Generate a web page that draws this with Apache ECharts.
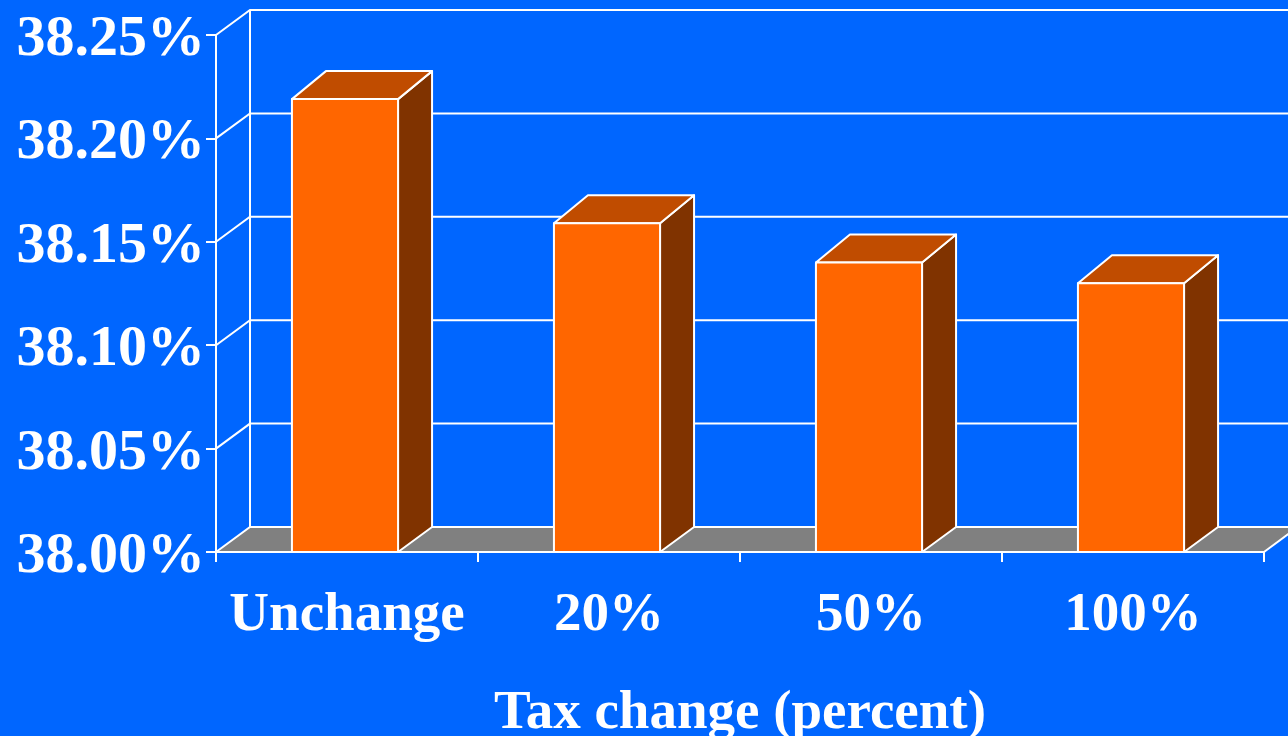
<!DOCTYPE html>
<html><head><meta charset="utf-8">
<script src="https://cdn.jsdelivr.net/npm/echarts@6/dist/echarts.min.js"></script>
<style>html,body{margin:0;padding:0;background:#0066ff;overflow:hidden}#c{width:1288px;height:736px}</style>
</head><body><div id="c"></div>
<script>
// ---- data ----
const categories = ['Unchange', '20%', '50%', '100%'];
const values = [38.219, 38.159, 38.140, 38.130];
const yTicks = [38.00, 38.05, 38.10, 38.15, 38.20, 38.25];
const yMin = 38.00, yMax = 38.25, yStep = 0.05;
const axisTitle = 'Tax change (percent)';

// ---- style ----
const DX = 34, DY = 25, DYT = 28;
const FONT = '"Liberation Serif","Times New Roman",serif';
const WHITE = '#ffffff';
const LW = 2;

const chart = echarts.init(document.getElementById('c'), null, {renderer: 'canvas'});

const option = {
  backgroundColor: '#0066ff',
  animation: false,
  grid: {left: 216, right: 24, top: 35, bottom: 184, containLabel: false, outerBoundsMode: 'none'},
  xAxis: {
    type: 'category',
    data: categories,
    z: 10,
    axisLine: {lineStyle: {color: WHITE, width: LW}},
    axisTick: {show: true, interval: 0, length: 10, lineStyle: {color: WHITE, width: LW}},
    axisLabel: {interval: 0, color: WHITE, fontFamily: FONT, fontWeight: 'bold', fontSize: 55, margin: 36},
    name: axisTitle,
    nameLocation: 'middle',
    nameGap: 134,
    nameTextStyle: {color: WHITE, fontFamily: FONT, fontWeight: 'bold', fontSize: 55},
    splitLine: {show: false}
  },
  yAxis: {
    type: 'value',
    min: yMin, max: yMax, interval: yStep,
    z: 10,
    axisLine: {show: true, lineStyle: {color: WHITE, width: LW}},
    axisTick: {show: true, length: 10, lineStyle: {color: WHITE, width: LW}},
    axisLabel: {color: WHITE, fontFamily: FONT, fontWeight: 'bold', fontSize: 58, margin: 11,
      formatter: v => '{a|' + v.toFixed(2) + '%}',
      rich: {a: {color: WHITE, fontFamily: FONT, fontWeight: 'bold', fontSize: 58, padding: [10, 0, 0, 0]}}},
    splitLine: {show: false}
  },
  series: [
    { // floor
      type: 'custom', z: 1,
      data: [[0, yMin]],
      renderItem: (params, api) => {
        const cs = params.coordSys;
        const y = api.coord([0, api.value(1)])[1];
        return {
          type: 'polygon',
          shape: {points: [[cs.x, y], [cs.x + cs.width, y], [cs.x + cs.width + DX, y - DY], [cs.x + DX, y - DY]]},
          style: {fill: '#808080', stroke: null}
        };
      }
    },
    { // back wall grid lines
      type: 'custom', z: 2,
      data: yTicks.map(v => [0, v]),
      renderItem: (params, api) => {
        const cs = params.coordSys;
        const y = api.coord([0, api.value(1)])[1];
        const children = [{
          type: 'polyline',
          shape: {points: [[cs.x, y], [cs.x + DX, y - DY], [cs.x + cs.width + DX + 40, y - DY]]},
          style: {stroke: WHITE, lineWidth: LW, fill: null}
        }];
        if (params.dataIndex === 0) {
          const yT = api.coord([0, yMax])[1];
          children.push({
            type: 'line',
            shape: {x1: cs.x + DX, y1: yT - DY, x2: cs.x + DX, y2: y - DY},
            style: {stroke: WHITE, lineWidth: LW}
          });
          children.push({
            type: 'line',
            shape: {x1: cs.x + cs.width, y1: y, x2: cs.x + cs.width + DX, y2: y - DY},
            style: {stroke: WHITE, lineWidth: LW}
          });
        }
        return {type: 'group', children};
      }
    },
    { // 3D bars
      type: 'custom', z: 3,
      data: values.map((v, i) => [i, v]),
      renderItem: (params, api) => {
        const i = api.value(0), v = api.value(1);
        const p = api.coord([i, v]);
        const base = api.coord([i, yMin])[1];
        const w = api.size([1, 0])[0] * 0.405;
        const xl = p[0] - w / 2 - 2, xr = xl + w, top = p[1];
        const st = {stroke: WHITE, lineWidth: LW, lineJoin: 'round'};
        return {
          type: 'group',
          children: [
            {type: 'polygon', shape: {points: [[xr, top], [xr + DX, top - DYT], [xr + DX, base - DY], [xr, base]]},
              style: Object.assign({fill: '#803300'}, st)},
            {type: 'polygon', shape: {points: [[xl, top], [xl + DX, top - DYT], [xr + DX, top - DYT], [xr, top]]},
              style: Object.assign({fill: '#c04c00'}, st)},
            {type: 'rect', shape: {x: xl, y: top, width: w, height: base - top},
              style: Object.assign({fill: '#ff6600'}, st)}
          ]
        };
      }
    }
  ]
};
chart.setOption(option);
</script>
</body></html>
